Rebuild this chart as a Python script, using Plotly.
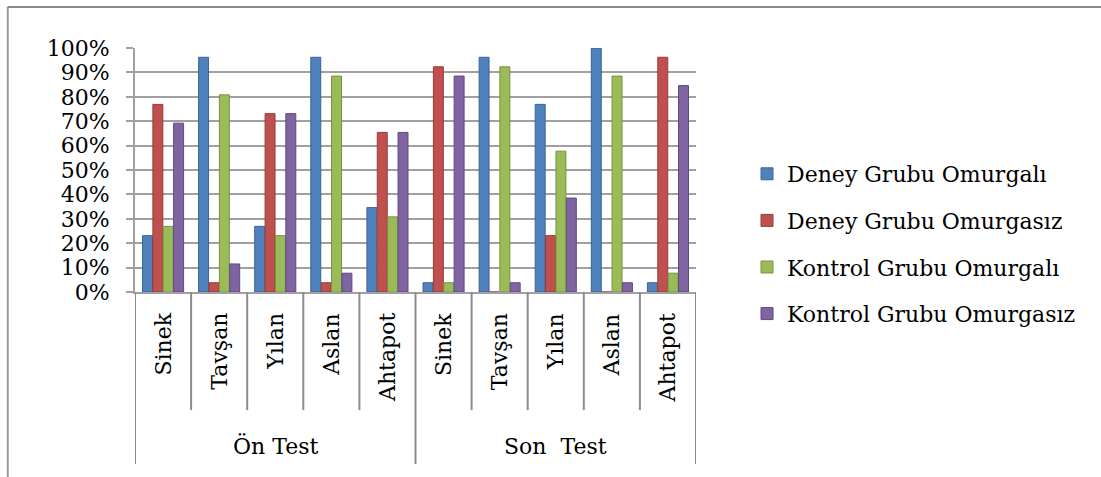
import plotly.graph_objects as go

# Test phases and the animals asked about in each phase
tests = ["Ön Test", "Son  Test"]
animals = ["Sinek", "Tavşan", "Yılan", "Aslan", "Ahtapot"]

# Share of answers per group (Ön Test animals, then Son Test animals)
deney_omurgali = [0.231, 0.962, 0.269, 0.962, 0.346, 0.038, 0.962, 0.769, 1.000, 0.038]
deney_omurgasiz = [0.769, 0.038, 0.731, 0.038, 0.654, 0.923, 0.000, 0.231, 0.000, 0.962]
kontrol_omurgali = [0.269, 0.808, 0.231, 0.885, 0.308, 0.038, 0.923, 0.577, 0.885, 0.077]
kontrol_omurgasiz = [0.692, 0.115, 0.731, 0.077, 0.654, 0.885, 0.038, 0.385, 0.038, 0.846]

series = [
    ("Deney Grubu Omurgalı", deney_omurgali, "#4F81BD", "#3A6597"),
    ("Deney Grubu Omurgasız", deney_omurgasiz, "#C0504D", "#953C3A"),
    ("Kontrol Grubu Omurgalı", kontrol_omurgali, "#9BBB59", "#779440"),
    ("Kontrol Grubu Omurgasız", kontrol_omurgasiz, "#8064A2", "#5F4A7D"),
]

FONT = "DejaVu Serif"
GRID = "#A0A0A0"

categories = [a for _ in tests for a in animals]
xpos = list(range(len(categories)))

fig = go.Figure()
for i, (name, vals, color, edge) in enumerate(series):
    fig.add_trace(go.Bar(
        x=xpos, y=vals, name=name, legendgroup=str(i),
        marker=dict(color=color, line=dict(color=edge, width=1)),
    ))

# Animal labels under each category, rotated to read bottom-to-top
annotations = []
for i, a in enumerate(categories):
    annotations.append(dict(
        x=i, y=0, xref="x", yref="y", yshift=-19, text=a, textangle=-90,
        showarrow=False, xanchor="center", yanchor="top",
        font=dict(family=FONT, size=22, color="black"),
    ))
# Phase labels centred under their five animals
n = len(animals)
for k, t in enumerate(tests):
    annotations.append(dict(
        x=k * n + (n - 1) / 2, y=0, xref="x", yref="y", yshift=-154, text=t,
        showarrow=False, xanchor="center", yanchor="middle",
        font=dict(family=FONT, size=22, color="black"),
    ))

shapes = []
# Dividers between the animal labels and between the two phases
for b in range(len(categories) + 1):
    outer = b % n == 0
    shapes.append(dict(
        type="line", xref="x", yref="paper", x0=b - 0.5, x1=b - 0.5,
        y0=0, y1=-0.705 if outer else -0.484,
        line=dict(color="#8C8C8C", width=2),
    ))
# Chart frame (left and top edges)
shapes.append(dict(type="line", xref="paper", yref="paper", x0=-0.2268, x1=-0.2268,
                   y0=1.168, y1=-1.0, line=dict(color="#9A9A9A", width=2)))
shapes.append(dict(type="line", xref="paper", yref="paper", x0=-0.2268, x1=2.0,
                   y0=1.168, y1=1.168, line=dict(color="#8C8C8C", width=2)))

fig.update_layout(
    width=1101, height=477,
    margin=dict(l=135, r=405, t=48, b=185),
    paper_bgcolor="white", plot_bgcolor="white",
    barmode="group", bargap=0.26, bargroupgap=0.04,
    font=dict(family=FONT, size=22, color="black"),
    xaxis=dict(
        range=[-0.5, len(categories) - 0.5], showticklabels=False, showgrid=False,
        zeroline=False, showline=True, linecolor=GRID, linewidth=2, ticks="",
        fixedrange=True,
    ),
    yaxis=dict(
        range=[0, 1], tickvals=[i / 10 for i in range(11)],
        ticktext=[f"{i * 10}%" for i in range(11)],
        tickfont=dict(family=FONT, size=22, color="black"),
        showgrid=True, gridcolor=GRID, gridwidth=2, zeroline=False,
        showline=True, linecolor=GRID, linewidth=2,
        ticks="outside", ticklen=7, tickcolor=GRID, tickwidth=2,
        ticklabelstandoff=12,
    ),
    legend=dict(
        xref="container", yref="container", x=0.6785, y=0.4885,
        xanchor="left", yanchor="middle",
        font=dict(family=FONT, size=22, color="black"),
        tracegroupgap=15, itemwidth=30, bgcolor="rgba(0,0,0,0)",
    ),
    annotations=annotations,
    shapes=shapes,
)

fig.write_html("out.html")
